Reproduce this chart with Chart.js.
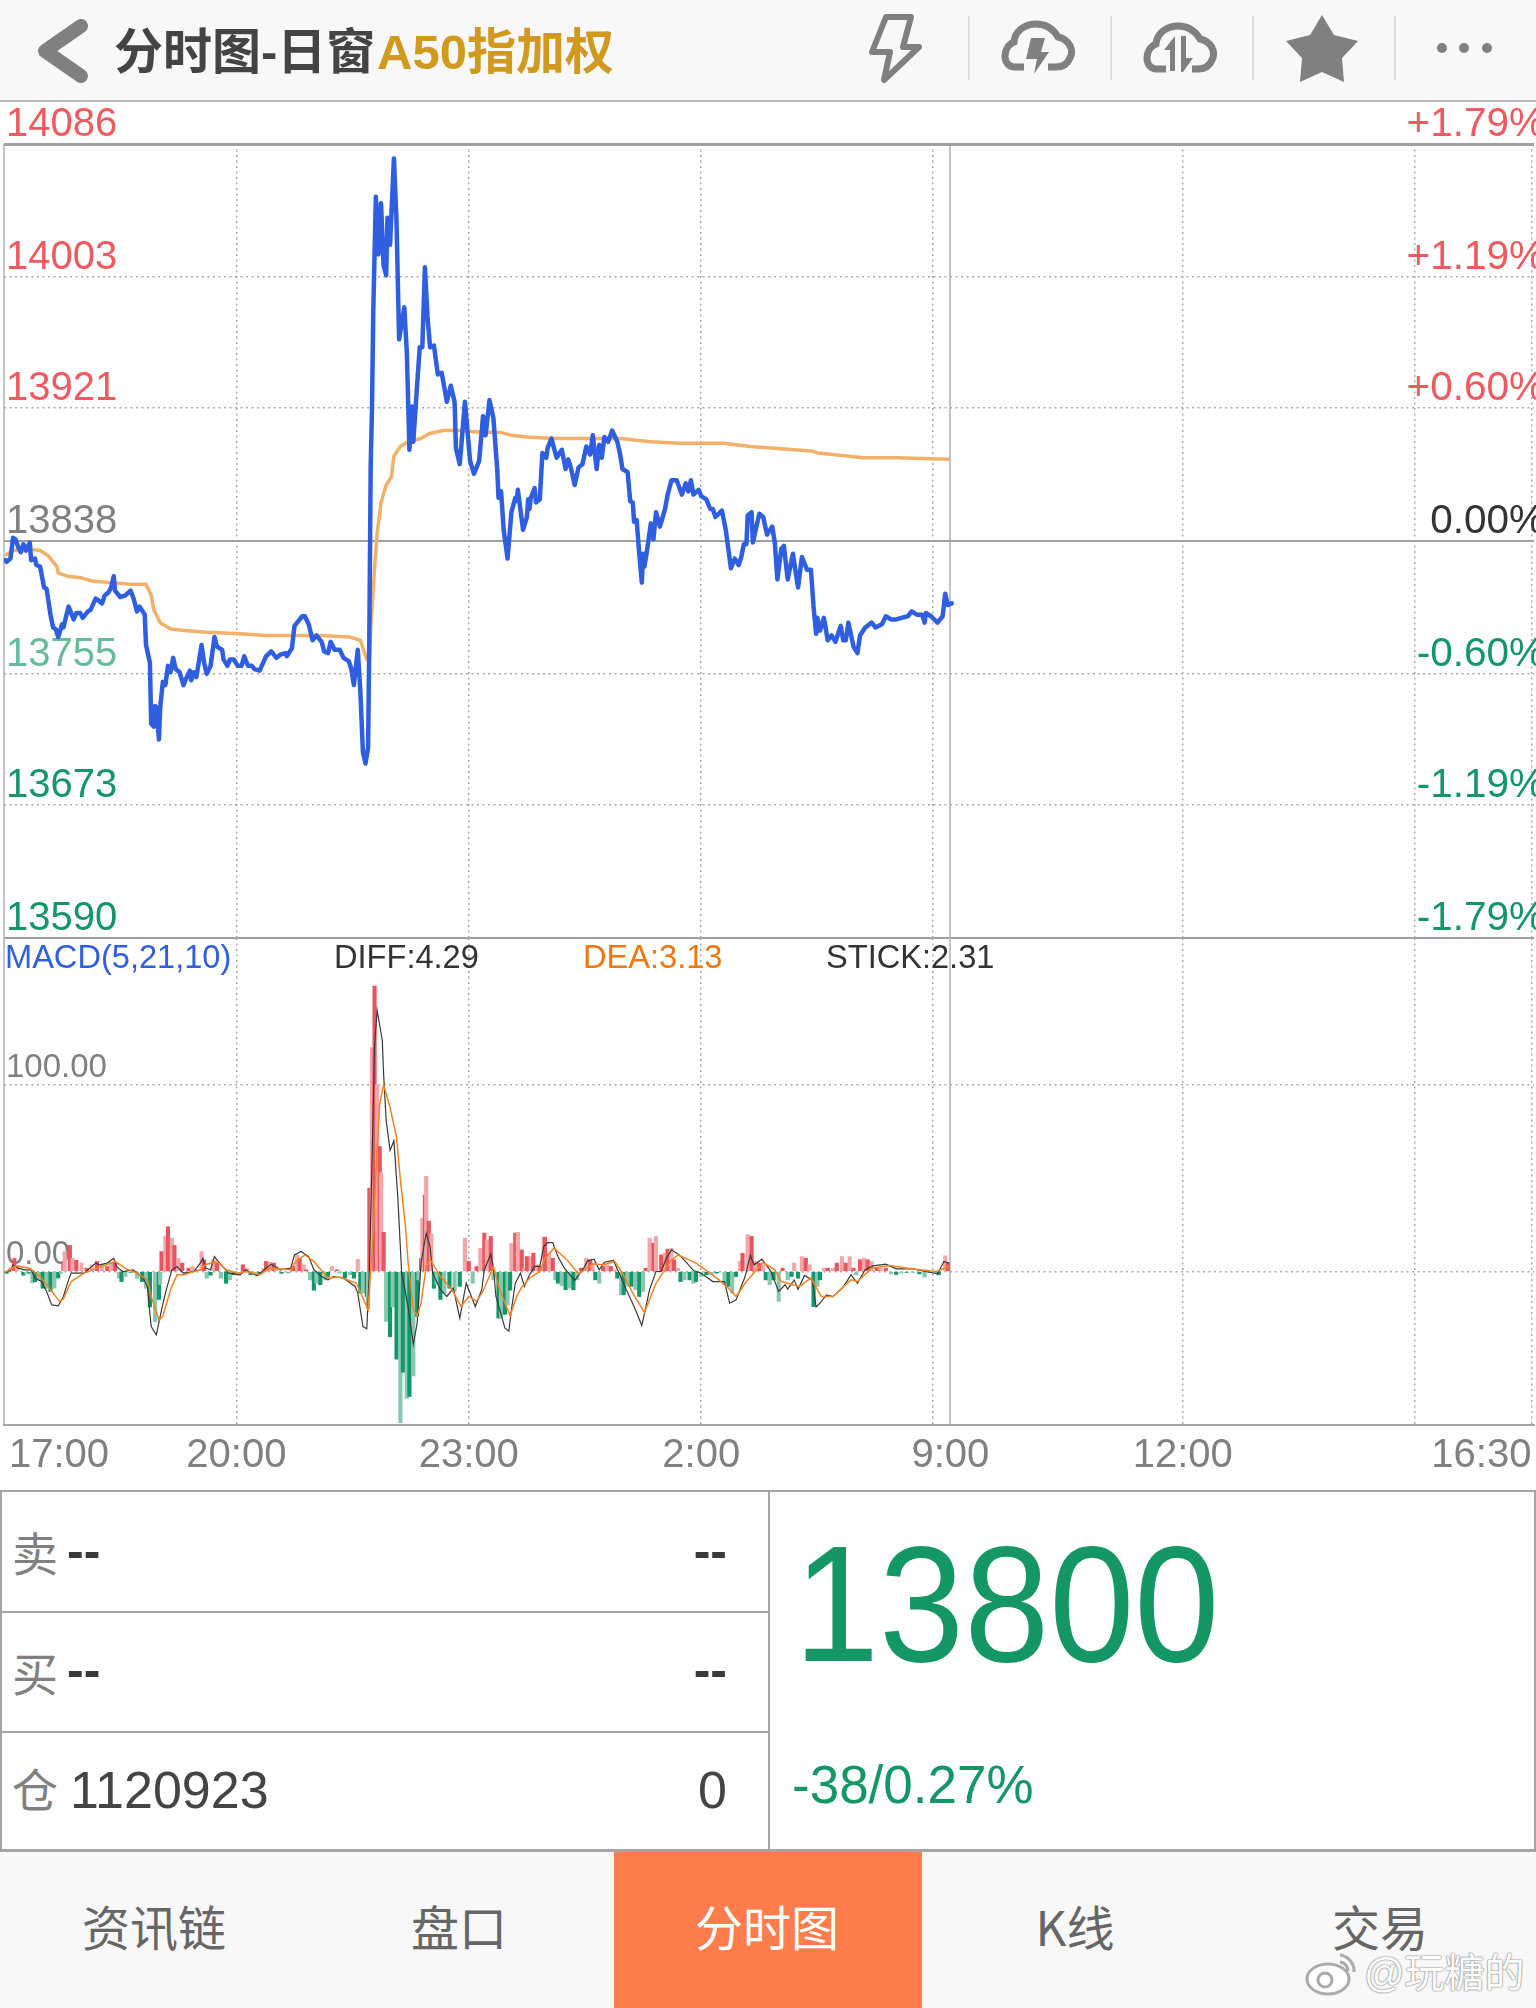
<!DOCTYPE html>
<html lang="zh-CN">
<head>
<meta charset="utf-8">
<title>分时图-日窗 A50指加权</title>
<script src="https://cdn.jsdelivr.net/npm/chart.js@4/dist/chart.umd.min.js"></script>
<style>
  html, body { margin: 0; padding: 0; background: #fff; }
  #page {
    position: relative; width: 1536px; height: 2008px; overflow: hidden; background: #fff;
    font-family: "Liberation Sans", "Noto Sans CJK SC", sans-serif;
  }
  #page div, #page span { position: absolute; white-space: nowrap; }
  canvas { position: absolute; left: 0; }
  #header { left: 0; top: 0; width: 1536px; height: 100px; background: #f8f8f8; border-bottom: 2px solid #bdbdbd; }
  .title { top: 23px; font-size: 49px; line-height: 58px; font-weight: bold; }
  .macd { top: 938px; font-size: 32.6px; line-height: 38px; }
  .line { background: #a5a5a5; }
  .gray { color: #808080; font-size: 46px; line-height: 54px; left: 12px; font-family: "Noto Sans CJK SC", sans-serif; }
  .dash { color: #3a3a3a; font-size: 50px; line-height: 50px; font-weight: bold; }
  .num { color: #444; font-size: 52px; line-height: 58px; top: 1761px; }
  #tabs { left: 0; top: 1852px; width: 1536px; height: 156px; background: #f8f8f8; }
  #active { left: 614px; top: 1852px; width: 308px; height: 156px; background: #ff7c4d; }
  .tab { top: 1896px; width: 240px; text-align: center; font-size: 48px; line-height: 58px; color: #666; font-family: "Noto Sans CJK SC", sans-serif; }
  #mark { left: 1364px; top: 1948px; font-size: 40px; line-height: 50px; color: #fff; text-shadow: 0 0 2px #777, 0 0 1px #777; }
</style>
</head>
<body>
<div id="page">
  <div id="header"></div>
  <svg style="position:absolute;left:0;top:0" width="1536" height="100">
    <polyline points="81,26 45,51 81,76" fill="none" stroke="#808080" stroke-width="14" stroke-linejoin="round" stroke-linecap="round"/>
    <path d="M886 17 H911 L903 47 H919 L884 80 L890 52 H872 Z" fill="none" stroke="#808080" stroke-width="6" stroke-linejoin="round"/>
    <rect x="968" y="16" width="2" height="64" fill="#ddd"/>
    <rect x="1110" y="16" width="2" height="64" fill="#ddd"/>
    <rect x="1252" y="16" width="2" height="64" fill="#ddd"/>
    <rect x="1394" y="16" width="2" height="64" fill="#ddd"/>
    <g transform="translate(-2,0)">
      <path d="M1026 67 H1016 C1004 66 1004 47 1016 42 C1017 30 1028 24 1038 24 C1050 24 1056 30 1060 37 C1072 40 1076 50 1072 58 C1069 65 1064 67 1058 67 H1050" fill="none" stroke="#808080" stroke-width="7"/>
      <path d="M1033 38 H1047 L1043 52 H1051 L1036 74 L1039 59 H1028 Z" fill="#808080"/>
      <path d="M1168 69 H1158 C1146 68 1146 49 1158 44 C1159 32 1170 26 1180 26 C1192 26 1198 32 1202 39 C1214 42 1218 52 1214 60 C1211 67 1206 69 1200 69 H1194" fill="none" stroke="#808080" stroke-width="7"/>
      <path d="M1177 36 V71 H1172 V50 H1166 Z" fill="#808080"/>
      <path d="M1183 36 H1188 V58 H1195 L1185 72 H1183 Z" fill="#808080"/>
    </g>
    <polygon points="1322,15 1334,35 1358,41 1342,58 1344,82 1322,72 1300,82 1302,58 1286,41 1310,35" fill="#808080"/>
    <circle cx="1442" cy="48" r="5" fill="#808080"/>
    <circle cx="1464" cy="48" r="5" fill="#808080"/>
    <circle cx="1487" cy="48" r="5" fill="#808080"/>
  </svg>
  <div class="title" style="left:114px;color:#444">分时图-日窗</div>
  <div class="title" style="left:377px;color:#d2991f">A50指加权</div>

  <canvas id="graficoPreco" width="1536" height="842" style="top:100px"></canvas>
  <canvas id="graficoMacd" width="1536" height="553" style="top:936px"></canvas>

  <div class="macd" style="left:5px;color:#2f5fe0">MACD(5,21,10)</div>
  <div class="macd" style="left:334px;color:#333">DIFF:4.29</div>
  <div class="macd" style="left:583px;color:#ee7711">DEA:3.13</div>
  <div class="macd" style="left:826px;color:#333">STICK:2.31</div>

  <!-- painel de cotação -->
  <div class="line" style="left:0;top:1490px;width:1536px;height:2px"></div>
  <div class="line" style="left:0;top:1611px;width:769px;height:2px"></div>
  <div class="line" style="left:0;top:1731px;width:769px;height:2px"></div>
  <div class="line" style="left:0;top:1849px;width:1536px;height:3px"></div>
  <div class="line" style="left:0;top:1490px;width:2px;height:360px"></div>
  <div class="line" style="left:768px;top:1490px;width:2px;height:360px"></div>
  <div class="line" style="left:1534px;top:1490px;width:2px;height:360px"></div>
  <div class="gray" style="top:1524px">卖</div>
  <div class="gray" style="top:1644px">买</div>
  <div class="gray" style="top:1760px">仓</div>
  <div class="dash" style="left:67px;top:1526px">--</div>
  <div class="dash" style="right:809px;top:1526px">--</div>
  <div class="dash" style="left:67px;top:1645px">--</div>
  <div class="dash" style="right:809px;top:1645px">--</div>
  <div class="num" style="left:70px">1120923</div>
  <div class="num" style="right:809px">0</div>
  <div style="left:794px;top:1514px;font-size:153px;line-height:180px;color:#149764;transform:scaleY(1.08);transform-origin:0 50%">13800</div>
  <div style="left:792px;top:1754px;font-size:53px;line-height:62px;color:#149764">-38/0.27%</div>

  <!-- abas -->
  <div id="tabs"></div>
  <div id="active"></div>
  <div class="tab" style="left:34px">资讯链</div>
  <div class="tab" style="left:339px">盘口</div>
  <div class="tab" style="left:647px;color:#fff">分时图</div>
  <div class="tab" style="left:955px">K线</div>
  <div class="tab" style="left:1260px">交易</div>
  <svg style="position:absolute;left:1304px;top:1950px" width="58" height="48">
    <ellipse cx="24" cy="29" rx="21" ry="15" fill="#fff" stroke="#aaa" stroke-width="3"/>
    <circle cx="21" cy="30" r="7" fill="none" stroke="#aaa" stroke-width="3"/>
    <path d="M36 5 A16 16 0 0 1 50 22 M36 12 A9 9 0 0 1 44 21" fill="none" stroke="#aaa" stroke-width="3"/>
  </svg>
  <div id="mark">@玩糖的</div>
</div>

<script>
// ===============================
// DADOS
// ===============================
const timeTicks = [0, 180, 360, 540, 719, 733, 913, 1093, 1183];
const timeLabels = ['17:00', '20:00', '23:00', '2:00', '', '9:00', '12:00', '', '16:30'];
const priceTicks = [13590, 13673, 13755, 13838, 13921, 14003, 14086];
const pctTicks = [-1.79, -1.19, -0.60, 0, 0.60, 1.19, 1.79];
const pctLabels = ['-1.79%', '-1.19%', '-0.60%', '0.00%', '+0.60%', '+1.19%', '+1.79%'];
const macdTicks = [0, 100];

const priceMinutes = [
  1, 2, 5, 7, 9, 11, 13, 15, 17, 20, 21, 24, 25, 28, 31, 33, 36, 38, 40, 42, 45, 46, 50, 54, 56, 59, 61, 65, 67, 71,
  73, 76, 78, 81, 83, 85, 86, 90, 94, 98, 100, 103, 105, 109, 110, 113, 114, 116, 117, 118, 120, 121, 123, 125, 127, 129, 131, 133, 136, 139,
  141, 144, 145, 147, 149, 153, 155, 157, 160, 163, 165, 169, 170, 173, 175, 178, 181, 184, 186, 189, 192, 194, 198, 203, 207, 211, 214, 218, 219, 223,
  225, 228, 231, 233, 236, 239, 242, 246, 248, 251, 253, 256, 260, 263, 267, 269, 271, 274, 276, 278, 280, 282, 283, 284, 285, 286, 288, 290, 292, 294,
  296, 297, 299, 302, 304, 306, 310, 312, 314, 316, 317, 320, 322, 324, 326, 328, 330, 333, 336, 339, 343, 346, 349, 350, 353, 357, 361, 364, 368, 371,
  373, 376, 379, 382, 383, 385, 387, 390, 393, 396, 397, 398, 402, 405, 406, 407, 408, 411, 412, 415, 417, 420, 421, 424, 428, 432, 435, 437, 439, 442,
  445, 448, 451, 454, 456, 459, 461, 463, 465, 468, 471, 475, 477, 479, 483, 485, 487, 488, 490, 492, 494, 495, 496, 498, 501, 503, 505, 508, 512, 514,
  517, 521, 525, 528, 530, 532, 534, 538, 540, 544, 547, 549, 551, 556, 559, 563, 566, 569, 571, 573, 575, 576, 579, 580, 585, 588, 591, 595, 597, 599,
  602, 604, 607, 611, 615, 618, 622, 625, 627, 629, 630, 632, 635, 638, 641, 644, 648, 650, 652, 654, 658, 661, 663, 667, 672, 675, 680, 683, 687, 691,
  695, 700, 703, 707, 711, 713, 714, 718, 723, 727, 729, 731, 734
];
const priceValues = [
  13826, 13825, 13827, 13840, 13839, 13834, 13831, 13836, 13832, 13837, 13826, 13827, 13823, 13822, 13809, 13808, 13792, 13784, 13783, 13778, 13786, 13784, 13797, 13789, 13793, 13793, 13790, 13794, 13795, 13802,
  13801, 13799, 13804, 13806, 13809, 13816, 13807, 13803, 13804, 13807, 13803, 13794, 13797, 13792, 13773, 13762, 13724, 13722, 13735, 13734, 13714, 13734, 13750, 13748, 13760, 13756, 13765, 13758, 13756, 13748,
  13752, 13757, 13751, 13756, 13753, 13773, 13762, 13755, 13760, 13778, 13772, 13770, 13764, 13760, 13764, 13764, 13760, 13760, 13766, 13760, 13760, 13758, 13757, 13766, 13769, 13765, 13767, 13768, 13766, 13771,
  13785, 13788, 13791, 13791, 13786, 13776, 13779, 13775, 13769, 13768, 13775, 13770, 13770, 13765, 13763, 13758, 13748, 13770, 13744, 13706, 13699, 13709, 13783, 13885, 13920, 13981, 14053, 14017, 14049, 14010,
  14004, 14040, 14023, 14077, 14038, 13964, 13984, 13956, 13895, 13922, 13900, 13936, 13959, 13959, 14009, 13978, 13959, 13960, 13942, 13943, 13925, 13935, 13925, 13896, 13886, 13925, 13888, 13880, 13888, 13916,
  13904, 13926, 13915, 13883, 13865, 13869, 13845, 13827, 13856, 13865, 13863, 13870, 13845, 13853, 13864, 13858, 13865, 13871, 13862, 13864, 13893, 13890, 13896, 13902, 13890, 13895, 13883, 13889, 13884, 13873,
  13884, 13886, 13897, 13892, 13904, 13883, 13898, 13890, 13903, 13900, 13907, 13900, 13893, 13883, 13881, 13863, 13862, 13850, 13851, 13830, 13812, 13830, 13822, 13832, 13849, 13839, 13856, 13847, 13858, 13867,
  13876, 13876, 13867, 13874, 13869, 13876, 13867, 13870, 13866, 13864, 13858, 13858, 13853, 13857, 13845, 13821, 13827, 13823, 13828, 13836, 13836, 13854, 13856, 13837, 13855, 13853, 13842, 13847, 13837, 13814,
  13833, 13835, 13814, 13830, 13809, 13828, 13820, 13820, 13797, 13780, 13790, 13782, 13790, 13776, 13779, 13775, 13785, 13776, 13776, 13787, 13772, 13768, 13779, 13784, 13787, 13784, 13786, 13791, 13789, 13789,
  13790, 13791, 13794, 13792, 13792, 13787, 13793, 13791, 13787, 13791, 13805, 13798, 13799
];

const avgMinutes = [
  1, 7, 18, 28, 34, 41, 42, 49, 60, 68, 82, 98, 110, 114, 116, 121, 129, 142, 157, 183, 203, 224, 245, 268, 276, 278, 281, 283, 284, 287,
  289, 292, 296, 300, 302, 307, 313, 323, 329, 340, 353, 369, 384, 393, 405, 425, 454, 477, 490, 501, 523, 557, 578, 597, 627, 630, 655, 665, 691, 732
];
const avgValues = [
  13829, 13832, 13833, 13832, 13829, 13822, 13818, 13816, 13815, 13813, 13812, 13811, 13811, 13804, 13795, 13787, 13783, 13782, 13781, 13780, 13779, 13779, 13779, 13778, 13776, 13771, 13764, 13764, 13783, 13821,
  13843, 13862, 13873, 13878, 13891, 13897, 13900, 13902, 13905, 13907, 13907, 13906, 13906, 13904, 13903, 13902, 13902, 13902, 13901, 13900, 13899, 13899, 13897, 13896, 13894, 13893, 13891, 13890, 13890, 13889
];

const stickMinutes = [
  2, 5, 8, 10, 15, 17, 20, 22, 24, 27, 30, 33, 36, 39, 42, 44, 46, 47, 51, 53, 56, 60, 64, 68, 72, 76, 80, 83, 86, 89,
  91, 94, 98, 103, 107, 110, 113, 117, 120, 121, 122, 125, 127, 130, 132, 135, 138, 140, 143, 146, 149, 153, 155, 157, 160, 162, 165, 168, 172, 175,
  178, 181, 185, 188, 191, 195, 198, 201, 203, 206, 209, 211, 215, 220, 224, 227, 229, 232, 234, 237, 240, 242, 245, 249, 251, 254, 258, 260, 264, 268,
  271, 274, 276, 278, 281, 282, 283, 285, 287, 289, 291, 292, 294, 296, 299, 301, 304, 307, 309, 312, 314, 317, 320, 321, 323, 324, 326, 327, 329, 331,
  333, 335, 338, 341, 345, 349, 353, 357, 360, 363, 366, 369, 372, 374, 377, 379, 383, 385, 388, 390, 392, 393, 396, 398, 401, 403, 405, 408, 410, 413,
  415, 418, 419, 422, 425, 427, 429, 432, 435, 438, 441, 444, 447, 451, 454, 456, 458, 461, 464, 467, 470, 473, 475, 478, 480, 483, 486, 489, 492, 495,
  497, 500, 503, 505, 509, 512, 514, 517, 519, 522, 524, 527, 531, 534, 536, 540, 544, 548, 552, 558, 561, 564, 567, 570, 572, 576, 579, 582, 585, 588,
  590, 593, 596, 600, 603, 607, 610, 612, 615, 618, 621, 624, 627, 630, 632, 635, 638, 642, 645, 649, 652, 655, 658, 660, 663, 666, 669, 672, 676, 679,
  683, 687, 691, 695, 699, 704, 709, 713, 717, 721, 724, 729, 731
];
const stickValues = [
  -1, 2, 7, 3, -2, -1, -1, -6, -5.5, -4.5, -9, -9, -10.7, -9, -3.5, -1, 4.5, 10.7, 14, 7, 6, 4.5, 1.8, 3.6, 5.4, 3.6, 2.7, 4.5, 4.5, -3.6,
  -5.4, -2.7, -0.5, -3.6, -5.4, -9, -19, -27, -15, -7, 10.7, 18.8, 24, 17.9, 14, 7, 4.5, -1.8, 1.8, 2.7, 0.9, 10.7, 6.3, -3.6, -2, 6.3, 4.5, -3.6, -6.3, -4.5,
  -1.8, -1.8, 3.6, 1.8, -1.8, -1.8, -1, 1.8, 5.4, 5, 4.5, 2.7, -1, -0.9, 2.7, 8.9, 7.1, 3.6, 0.9, -4.5, -10, -6.3, -7.1, -4.5, -2.7, 2.7, 0.9, -0.9, -3.6, -1.8,
  -3.6, 6.5, -11.6, -11.6, -13.4, -20, 44.7, 120, 153, 100, 67, 53, 21, -26.8, -35, -19, -47, -81, -54, -68, -67, -56, -24, -4.5, 7, 28.6, 41, 51, 27, 20,
  -9, -7, -15, -11.6, -9, -10.7, -8, 17.9, 5.4, -6.3, 2.7, 12.5, 20.6, 17, 18.8, -4.5, -25, -25, -23, -18, -10, 15, 20.6, 21, 11.6, 1.8, 8, 8, 9.8, 3.6,
  2.7, 18.2, 18.4, 9.8, 7.1, -4.5, -6.3, -7.7, -9.8, -8.9, -9.8, -4.5, 1.8, 7.1, 6.3, 3.6, -4.5, -6.3, 2.7, 3.6, 2.7, 0.9, -3.6, -12.5, -12.5, -8, -8, -9.8, -13.4, -10.7,
  1.8, 17.9, 15.2, 18.8, 8.9, 9.8, 12, 12.5, 6.3, 1.8, -5.4, -4.5, -4.5, -6.3, -5.4, -2.7, -1.8, -1.8, -0.9, -6.3, -8, -11.6, -2.7, 5.4, 9.8, 19.7, 18.8, 5.4, 4.5, 3.6,
  -4.5, -7.1, -4.5, -16, 1.8, -4.5, -2.7, 4.5, -3.6, 8, 7.1, 3.6, -18.8, -8, -4.5, 1.8, 1.8, 1.8, 4.5, 8, 4.5, 8, 1.8, -1.8, 6.3, 7.1, 6.3, 5.4, 1.8, 1.8,
  1.8, -1.3, -1.6, -0.9, -0.5, -0.5, -1.3, -3, -0.5, -0.5, -1.8, 8.4, 4.5
];

const diffMinutes = [
  1, 5, 7, 11, 16, 21, 24, 29, 33, 37, 42, 46, 50, 52, 62, 71, 74, 80, 85, 87, 92, 100, 108, 111, 114, 118, 122, 125, 130, 134,
  139, 147, 152, 154, 156, 160, 163, 167, 174, 183, 187, 196, 203, 207, 214, 222, 225, 230, 236, 240, 246, 251, 255, 263, 272, 274, 278, 281, 283, 285,
  287, 289, 293, 294, 296, 299, 302, 305, 308, 313, 317, 320, 323, 327, 330, 332, 338, 343, 348, 353, 358, 365, 370, 372, 377, 379, 381, 384, 388, 391,
  393, 396, 400, 403, 407, 411, 415, 418, 421, 425, 429, 434, 442, 449, 452, 457, 461, 465, 472, 477, 482, 488, 494, 500, 505, 509, 513, 517, 523, 529,
  534, 540, 549, 558, 562, 567, 574, 578, 581, 587, 594, 600, 605, 607, 612, 615, 620, 626, 629, 632, 637, 642, 650, 656, 661, 667, 673, 683, 691, 704,
  714, 723, 728, 732
];
const diffValues = [
  -0.5, 0.5, 3.6, 1.8, 0.9, 0.9, -3.6, -5.4, -10.7, -17.9, -18.4, -13.4, -4.5, -0.9, -0.9, 4.5, 3.6, 4.5, 7.1, 2.7, 0, 0.9, -3.6, -8, -29.5, -34, -20.6, -11.6, 0.9, 2.7,
  -0.9, 0, 4.5, 7.1, 1.8, 0.9, 8, 4.5, -0.9, -1.8, 0.9, -2.3, 1.8, 3.9, 0.9, 1.8, 8.9, 10.7, 8, 0.9, -2.7, -4.5, -2.7, -3.6, -8, -11.6, -29.5, -30.7, 0.9, 58,
  120.6, 140, 124, 106, 81, 65, 70, 40, -0.9, -18.8, -39, -27.7, 4.5, 20.6, 13.4, -0.9, -9.8, -13.4, -8.9, -25, -6.3, -18.8, -9.8, 0.9, 9.3, 2.7, -13.4, -20.6, -30.4, -32,
  -20.6, -6.3, -0.9, -8, -1.8, 2.7, 2.7, 13.4, 15.5, 15.5, 8, 1.8, -4.8, 1.8, 5.7, 6.6, 0.9, 5, 5.9, -1.8, -9.8, -18.8, -29, -9.8, 0, 0, 7.1, 11.6, 8.9, 4.5,
  0.5, -0.9, -5.4, -5.4, -17, -15.2, -2.7, 8.6, 3.6, 6.6, 0, -10.7, -7.1, -9.5, -4.5, -9.5, -2.1, -4.5, -19, -17, -12.5, -13.4, -8.4, -1.8, -6.3, 0.9, 3, 3.9, 1.4, 1.4,
  0, -1.3, 5.4, 4.5
];

const deaMinutes = [
  1, 9, 20, 28, 36, 43, 46, 52, 62, 74, 86, 95, 103, 111, 114, 120, 123, 129, 134, 139, 152, 156, 165, 172, 181, 188, 198, 206, 222, 225,
  233, 240, 251, 260, 273, 282, 286, 289, 291, 294, 299, 304, 307, 311, 313, 317, 320, 323, 327, 330, 338, 347, 354, 360, 366, 371, 379, 384, 388, 392,
  397, 401, 407, 415, 419, 426, 436, 445, 456, 464, 473, 479, 487, 496, 505, 516, 522, 536, 552, 561, 567, 575, 588, 597, 602, 616, 625, 633, 642, 656,
  661, 672, 686, 704, 722, 732
];
const deaValues = [
  -0.4, 3, 1.8, -2.7, -9.8, -16, -14.7, -5.4, -0.9, 2.3, 5.4, 1.3, -0.9, -4.5, -13.4, -26, -24, -9.8, -1.8, -1.8, 0.9, 3.6, 5.4, 0.9, -0.9, 0, -1.8, 1.8, 0.9, 4.5,
  8.9, 5.4, -3.6, -3, -6.3, -20.6, 22, 67, 90, 100, 88, 72, 49, 24, 4.5, -20.6, -23.6, -17, 2.7, 6.6, -2.7, -9.8, -18.8, -13.4, -16, -10.7, 2.7, -9.8, -17, -23.8,
  -13.4, -8.4, -3.6, 0, 7.1, 12.5, 6.3, -1.3, 4.1, 3.6, 5.4, -0.9, -11.6, -22, -6.3, 5.4, 8.9, 4.5, -3.6, -8.9, -13.4, -5.4, 4.8, 0.9, -5.4, -8, -3.6, -13.4, -13.4, -4.5,
  -5.4, 1.8, 3.2, 1.4, 0, 2.7
];

// ===============================
// ESTILO COMUM
// ===============================
const VERMELHO = '#ee5a5f';
const VERDE = '#14966a';
const CINZA = '#808080';
const FONTE = '"Liberation Sans", sans-serif';

function pares(xs, ys) {
  return xs.map((x, i) => ({ x, y: ys[i] }));
}

// eixo y espelhado não deve reservar espaço nenhum
function semEspaco(s) {
  s.width = 0;
  s.paddingTop = 0;
  s.paddingBottom = 0;
  s.paddingLeft = 0;
  s.paddingRight = 0;
}

function linhaCheia(ctx) {
  return ctx.tick && (ctx.tick.value === 0 || ctx.tick.value === 733);
}

function escalaTempo(extra) {
  return Object.assign({
    type: 'linear',
    min: 0,
    max: 1185,
    offset: false, // o dataset de barras ligaria offset sozinho
    afterBuildTicks: s => { s.ticks = timeTicks.map(value => ({ value })); },
    afterFit: s => { s.paddingLeft = 0; s.paddingRight = 0; },
    border: {
      display: false,
      dash: ctx => linhaCheia(ctx) ? [] : [2, 3.5]
    },
    grid: {
      offset: false,
      drawTicks: false,
      color: ctx => linhaCheia(ctx) ? '#c4c4c4' : '#aaaaaa',
      lineWidth: ctx => linhaCheia(ctx) ? 2 : 1.5
    }
  }, extra);
}

Chart.defaults.font.family = FONTE;
Chart.defaults.animation = false;

// ===============================
// GRÁFICO DE PREÇO
// ===============================
function corPreco(v) {
  if (v > 13838) return VERMELHO;
  if (v === 13838) return CINZA;
  if (v === 13755) return '#66bb99';
  return VERDE;
}

function corPct(v) {
  if (v > 0) return VERMELHO;
  if (v === 0) return '#333333';
  return VERDE;
}

function criarGraficoPreco() {
  new Chart(document.getElementById('graficoPreco'), {
    type: 'line',
    data: {
      datasets: [
        {
          label: '价格',
          data: pares(priceMinutes, priceValues),
          borderColor: '#2f5fe0',
          borderWidth: 4.5,
          borderJoinStyle: 'round',
          borderCapStyle: 'round',
          pointRadius: 0,
          yAxisID: 'y'
        },
        {
          label: '均价',
          data: pares(avgMinutes, avgValues),
          borderColor: '#f2b06a',
          borderWidth: 3.5,
          borderJoinStyle: 'round',
          pointRadius: 0,
          yAxisID: 'y'
        }
      ]
    },
    options: {
      responsive: false,
      devicePixelRatio: 1,
      layout: { padding: { left: 4, right: 2, top: 44, bottom: 4 } },
      plugins: { legend: { display: false }, tooltip: { enabled: false } },
      scales: {
        x: escalaTempo({ ticks: { display: false } }),
        y: {
          position: 'left',
          min: 13590,
          max: 14086,
          afterBuildTicks: s => { s.ticks = priceTicks.map(value => ({ value })); },
          afterFit: semEspaco,
          border: {
            display: false,
            dash: ctx => (ctx.tick && [13590, 13838, 14086].includes(ctx.tick.value)) ? [] : [2, 3.5]
          },
          grid: {
            drawTicks: false,
            color: ctx => (ctx.tick && [13590, 13838, 14086].includes(ctx.tick.value)) ? '#a0a0a0' : '#aaaaaa',
            lineWidth: ctx => {
              if (!ctx.tick) return 1;
              if (ctx.tick.value === 14086) return 3;
              return ctx.tick.value === 13838 || ctx.tick.value === 13590 ? 2 : 1.5;
            }
          },
          ticks: {
            mirror: true,
            padding: 2,
            labelOffset: -19,
            autoSkip: false,
            font: { size: 40 },
            color: ctx => corPreco(ctx.tick.value),
            callback: v => String(v)
          }
        },
        pct: {
          position: 'right',
          min: -1.79,
          max: 1.79,
          afterBuildTicks: s => { s.ticks = pctTicks.map(value => ({ value })); },
          afterFit: semEspaco,
          border: { display: false },
          grid: { display: false, drawTicks: false },
          ticks: {
            mirror: true,
            padding: 11,
            labelOffset: -19,
            autoSkip: false,
            font: { size: 40.5 },
            color: ctx => corPct(ctx.tick.value),
            callback: (v, i) => pctLabels[i]
          }
        }
      }
    }
  });
}

// ===============================
// GRÁFICO MACD
// ===============================
function corStick(v, i) {
  // barras alternam claro/escuro como na tela original
  if (v >= 0) return i % 2 ? '#f4a6aa' : '#e9555e';
  return i % 2 ? '#86c9ae' : '#14966a';
}

// "17:00" fica um pouco para dentro do eixo
const recuoPrimeiroRotulo = {
  id: 'recuoPrimeiroRotulo',
  beforeDraw(chart) {
    const items = chart.scales.x.getLabelItems();
    if (items.length) items[0].options.translation[0] += 5;
  }
};

function criarGraficoMacd() {
  new Chart(document.getElementById('graficoMacd'), {
    type: 'line',
    plugins: [recuoPrimeiroRotulo],
    data: {
      datasets: [
        {
          type: 'line',
          label: 'DEA',
          data: pares(deaMinutes, deaValues),
          borderColor: '#f58220',
          borderWidth: 1.5,
          pointRadius: 0,
          order: 1
        },
        {
          type: 'line',
          label: 'DIFF',
          data: pares(diffMinutes, diffValues),
          borderColor: '#3a3a3a',
          borderWidth: 1.2,
          pointRadius: 0,
          order: 2
        },
        {
          type: 'bar',
          label: 'STICK',
          data: pares(stickMinutes, stickValues),
          backgroundColor: stickValues.map(corStick),
          barThickness: 3.5,
          order: 3
        }
      ]
    },
    options: {
      responsive: false,
      devicePixelRatio: 1,
      layout: { padding: { left: 4, right: 2, top: 2, bottom: 2 } },
      plugins: { legend: { display: false }, tooltip: { enabled: false } },
      scales: {
        x: escalaTempo({
          border: {
            display: true,
            color: '#a5a5a5',
            width: 2,
            dash: ctx => linhaCheia(ctx) ? [] : [2, 3.5]
          },
          ticks: {
            align: 'inner',
            autoSkip: false,
            maxRotation: 0,
            padding: 7,
            font: { size: 40 },
            color: CINZA,
            callback: (v, i) => timeLabels[i]
          }
        }),
        y: {
          position: 'left',
          min: -82.3,
          max: 178.8,
          afterBuildTicks: s => { s.ticks = macdTicks.map(value => ({ value })); },
          afterFit: semEspaco,
          border: { display: false, dash: [2, 3.5] },
          grid: { drawTicks: false, color: '#aaaaaa', lineWidth: 1.5 },
          ticks: {
            mirror: true,
            padding: 2,
            labelOffset: -17,
            autoSkip: false,
            font: { size: 33 },
            color: CINZA,
            callback: v => v.toFixed(2)
          }
        }
      }
    }
  });
}

criarGraficoPreco();
criarGraficoMacd();
</script>
</body>
</html>
